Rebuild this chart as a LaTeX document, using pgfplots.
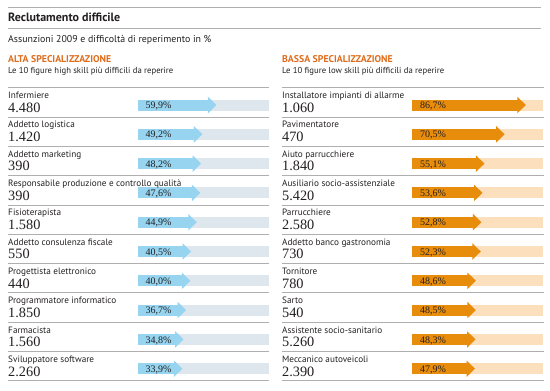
\documentclass[border=0pt]{standalone}
\usepackage{fontspec}
\setmainfont{Liberation Serif}
\setsansfont{PT Sans}
\usepackage{pgfplots}
\usepackage{pgfplotstable}
\pgfplotsset{compat=1.18}
\usetikzlibrary{arrows.meta}

\definecolor{arrowblue}{RGB}{150,212,240}
\definecolor{bgblue}{RGB}{222,230,238}
\definecolor{arroworange}{RGB}{232,140,12}
\definecolor{bgpeach}{RGB}{252,224,190}
\definecolor{headorange}{RGB}{222,108,28}
\definecolor{txt}{RGB}{35,31,32}
\definecolor{rule}{RGB}{175,175,175}

\pgfplotstableread[col sep=semicolon]{
row;name;n;pct
0;Infermiere;4480;59.9
1;Addetto logistica;1420;49.2
2;Addetto marketing;390;48.2
3;Responsabile produzione e controllo qualità;390;47.6
4;Fisioterapista;1580;44.9
5;Addetto consulenza fiscale;550;40.5
6;Progettista elettronico;440;40.0
7;Programmatore informatico;1850;36.7
8;Farmacista;1560;34.8
9;Sviluppatore software;2260;33.9
}\lefttab

\pgfplotstableread[col sep=semicolon]{
row;name;n;pct
0;Installatore impianti di allarme;1060;86.7
1;Pavimentatore;470;70.5
2;Aiuto parrucchiere;1840;55.1
3;Ausiliario socio-assistenziale;5420;53.6
4;Parrucchiere;2580;52.8
5;Addetto banco gastronomia;730;52.3
6;Tornitore;780;48.6
7;Sarto;540;48.5
8;Assistente socio-sanitario;5260;48.3
9;Meccanico autoveicoli;2390;47.9
}\righttab

\pgfplotsset{
  panel/.style={
    x=1.31bp, y=29.3bp, y dir=reverse,
    ymin=-0.7, ymax=9.5,
    axis line style={draw=none},
    xtick=\empty,
    ytick={-0.59,0.41,1.41,2.41,3.41,4.41,5.41,6.41,7.41,8.41,9.41},
    yticklabels={}, major tick length=0pt,
    ymajorgrids, grid style={rule, line width=0.8bp},
    clip=false, anchor=origin,
  },
  namestyle/.style={only marks, mark=none, nodes near coords, point meta=explicit symbolic,
    every node near coord/.style={anchor=base west, inner sep=0pt, yshift=6.4bp,
      text=txt, font=\sffamily\fontsize{9.2bp}{10bp}\selectfont}},
  numstyle/.style={only marks, mark=none, point meta=explicit,
    nodes near coords={\pgfmathprintnumber[fixed,precision=0,1000 sep={.},assume math mode=true]{\pgfplotspointmeta}},
    every node near coord/.style={anchor=base west, inner sep=0pt, yshift=-7.3bp,
      text=txt, font=\rmfamily\fontsize{14.3bp}{15bp}\selectfont}},
  pctstyle/.style={only marks, mark=none, point meta=explicit,
    nodes near coords={\pgfmathprintnumber[fixed,fixed zerofill,precision=1,use comma,assume math mode=true]{\pgfplotspointmeta}\%},
    every node near coord/.style={anchor=base west, inner sep=0pt, xshift=7.5bp, yshift=-3.6bp,
      text=txt, font=\rmfamily\fontsize{10bp}{11bp}\selectfont}},
}

\begin{document}
\begin{tikzpicture}
% header
\draw[rule, line width=0.8bp] (8bp,-7.3bp) -- (541bp,-7.3bp);
\draw[rule, line width=1bp] (8bp,-28.3bp) -- (541bp,-28.3bp);
\node[anchor=base west, inner sep=0pt, text=txt, font=\sffamily\bfseries\fontsize{12bp}{13bp}\selectfont] at (8bp,-21.7bp) {Reclutamento difficile};
\node[anchor=base west, inner sep=0pt, text=txt, font=\sffamily\fontsize{9.9bp}{11bp}\selectfont] at (8bp,-42.5bp) {Assunzioni 2009 e difficoltà di reperimento in \%};
\node[anchor=base west, inner sep=0pt, text=headorange, font=\sffamily\bfseries\fontsize{9.8bp}{11bp}\selectfont] at (8bp,-62.5bp) {ALTA SPECIALIZZAZIONE};
\node[anchor=base west, inner sep=0pt, text=txt, font=\sffamily\fontsize{8.7bp}{10bp}\selectfont] at (8bp,-73.3bp) {Le 10 figure high skill più difficili da reperire};
\node[anchor=base west, inner sep=0pt, text=headorange, font=\sffamily\bfseries\fontsize{9.8bp}{11bp}\selectfont] at (282bp,-62.5bp) {BASSA SPECIALIZZAZIONE};
\node[anchor=base west, inner sep=0pt, text=txt, font=\sffamily\fontsize{8.7bp}{10bp}\selectfont] at (282bp,-73.3bp) {Le 10 figure low skill più difficili da reperire};

% left panel
\begin{axis}[panel, at={(138bp,-105bp)}, xmin=-99.2, xmax=100.3]
\addplot[quiver={u=100,v=0}, line width=11bp, draw=bgblue, -] table[x expr=0, y=row] {\lefttab};
\addplot[quiver={u=\thisrow{pct},v=0}, line width=11bp, draw=arrowblue, fill=arrowblue,
  -{Triangle[length=8.5bp,width=16bp]}] table[x expr=0, y=row] {\lefttab};
\addplot[pctstyle] table[x expr=0, y=row, meta=pct] {\lefttab};
\addplot[namestyle] table[x expr=-99.2, y=row, meta=name] {\lefttab};
\addplot[numstyle] table[x expr=-99.2, y=row, meta=n] {\lefttab};
\end{axis}

% right panel
\begin{axis}[panel, at={(412.3bp,-105bp)}, xmin=-99.5, xmax=100.5]
\addplot[quiver={u=100,v=0}, line width=11bp, draw=bgpeach, -] table[x expr=0, y=row] {\righttab};
\addplot[quiver={u=\thisrow{pct},v=0}, line width=11bp, draw=arroworange, fill=arroworange,
  -{Triangle[length=8.5bp,width=16bp]}] table[x expr=0, y=row] {\righttab};
\addplot[pctstyle] table[x expr=0, y=row, meta=pct] {\righttab};
\addplot[namestyle] table[x expr=-99.5, y=row, meta=name] {\righttab};
\addplot[numstyle] table[x expr=-99.5, y=row, meta=n] {\righttab};
\end{axis}

\pgfresetboundingbox
\path[use as bounding box] (0,0) rectangle (550bp,-391bp);
\end{tikzpicture}
\end{document}
